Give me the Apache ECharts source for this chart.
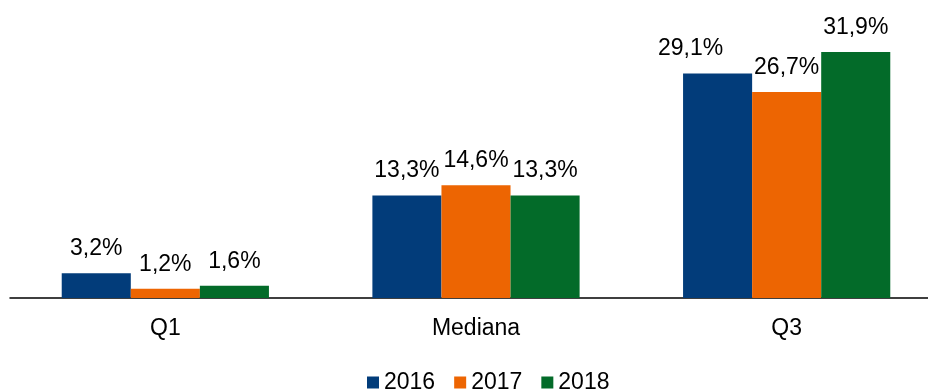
<!DOCTYPE html>
<html>
<head>
<meta charset="utf-8">
<script src="https://cdn.jsdelivr.net/npm/echarts@6/dist/echarts.min.js"></script>
<style>
  html, body { margin: 0; padding: 0; background: #fff; }
  #chart { width: 928px; height: 390px; }
</style>
</head>
<body>
<div id="chart"></div>
<script>
// Quartile distribution by year
const categories = ['Q1', 'Mediana', 'Q3'];
const years = ['2016', '2017', '2018'];
const values2016 = [3.2, 13.3, 29.1];
const values2017 = [1.2, 14.6, 26.7];
const values2018 = [1.6, 13.3, 31.9];
const colors = ['#023C7A', '#ED6502', '#036B29'];

const FONT = 'Liberation Sans, Arial, sans-serif';
const fmt = v => v.toFixed(1).replace('.', ',') + '%';

function makeSeries(name, values, color, offsets) {
  return {
    name: name,
    type: 'bar',
    barGap: 0,
    barCategoryGap: '33.3%',
    itemStyle: { color: color },
    label: {
      show: true,
      position: 'top',
      distance: 13,
      fontFamily: FONT,
      fontSize: 23,
      color: '#000',
      formatter: p => fmt(p.value)
    },
    data: values.map((v, i) => {
      const d = { value: v };
      if (offsets && offsets[i]) d.label = { offset: offsets[i] };
      return d;
    })
  };
}

const chart = echarts.init(document.getElementById('chart'));
chart.setOption({
  animation: false,
  legend: {
    top: 366,
    left: 362,
    itemWidth: 12,
    itemHeight: 12,
    itemGap: 19,
    icon: 'rect',
    textStyle: { fontFamily: FONT, fontSize: 23, color: '#000' },
    data: years
  },
  grid: { left: 10, right: -14, top: 28, bottom: 92, containLabel: false, outerBoundsMode: 'none' },
  xAxis: {
    type: 'category',
    data: categories,
    axisLine: { lineStyle: { color: '#000', width: 1.5 } },
    axisTick: { show: false },
    axisLabel: { margin: 19, fontFamily: FONT, fontSize: 23, color: '#000' }
  },
  yAxis: {
    type: 'value',
    min: 0,
    max: 35,
    show: false,
    splitLine: { show: false }
  },
  series: [
    makeSeries(years[0], values2016, colors[0], [null, null, [-27, 0]]),
    makeSeries(years[1], values2017, colors[1]),
    makeSeries(years[2], values2018, colors[2])
  ]
});
</script>
</body>
</html>
